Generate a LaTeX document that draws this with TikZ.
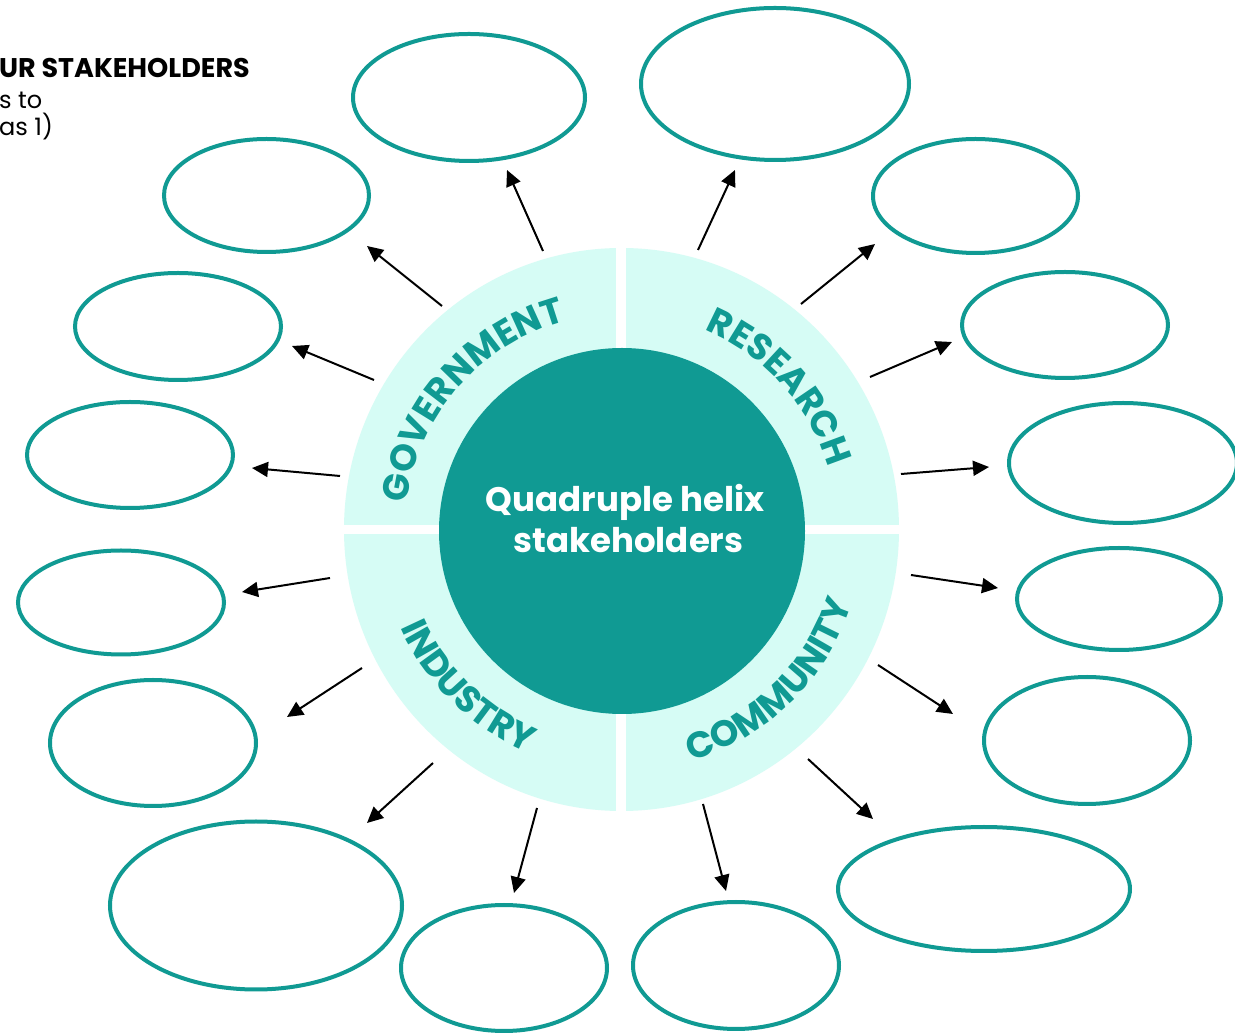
\documentclass[tikz,border=0pt]{standalone}
\usepackage{fontspec}
\newfontfamily\pop{Poppins}
\usetikzlibrary{shapes.geometric,arrows.meta,decorations.text,calc}
\definecolor{hteal}{HTML}{109A93}
\definecolor{hmint}{HTML}{D6FCF5}
\newcommand{\labfont}{\pop\bfseries\fontsize{36.5}{36.5}\selectfont\color{hteal}}
\begin{document}
\begin{tikzpicture}[x=1pt,y=1pt,
  bubble/.style={ellipse, draw=hteal, line width=4pt, inner sep=0pt, fill=white},
  link/.style={line width=2pt, draw=black, -{Triangle[length=16pt,width=15pt]}},
  cornertext/.style={anchor=base west, inner sep=0pt, font=\pop\fontsize{24}{24}\selectfont},
  hubtext/.style={anchor=base, inner sep=0pt, text=white, font=\pop\bfseries\fontsize{34}{34}\selectfont},
  arclabel/.style={decorate, decoration={text along path, text align=center, text={|\labfont|#1}}}
]
\useasboundingbox (0,0) rectangle (1235,1034);
\fill[white] (0,0) rectangle (1235,1034);

% corner text
\node[cornertext, font=\pop\bfseries\fontsize{27}{27}\selectfont] (t1) at (-1,956) {UR STAKEHOLDERS};
\node[cornertext] (t2) at (-1,925) {s to};
\node[cornertext] (t3) at (-1,898) {as 1)};

% central disc
\coordinate (C) at (621.5,504.5);
\fill[hmint] (C) ellipse [x radius=277.5, y radius=281.5];
\fill[white] (615.5,200) rectangle (626,840);
\fill[white] (330,500) rectangle (915,509);
\node[circle, fill=hteal, minimum size=366pt, inner sep=0pt] (hub) at (622,503) {};
\node[hubtext] (h1) at (625,522) {Quadruple helix};
\node[hubtext] (h2) at (628.5,481) {stakeholders};

% quadrant labels
\path[arclabel=GOVERNMENT] ($(C)+(178:216)$) arc[start angle=178, end angle=100, radius=216];
\path[arclabel=RESEARCH] ($(C)+(84:216)$) arc[start angle=84, end angle=0, radius=216];
\path[arclabel=INDUSTRY] ($(C)+(190:242)$) arc[start angle=190, end angle=261, radius=242];
\path[arclabel=COMMUNITY] ($(C)+(279:242)$) arc[start angle=279, end angle=350, radius=242];

% bubbles
\node[bubble, minimum width=232pt, minimum height=127pt] (e1) at (469,936.5) {};
\node[bubble, minimum width=268pt, minimum height=152pt] (e2) at (775,950) {};
\node[bubble, minimum width=205pt, minimum height=113pt] (e3) at (266.5,838.5) {};
\node[bubble, minimum width=205pt, minimum height=114pt] (e4) at (975.5,838) {};
\node[bubble, minimum width=206pt, minimum height=107pt] (e5) at (178,707.5) {};
\node[bubble, minimum width=206pt, minimum height=106pt] (e6) at (1065,709) {};
\node[bubble, minimum width=206pt, minimum height=106pt] (e7) at (130,579) {};
\node[bubble, minimum width=228pt, minimum height=120pt] (e8) at (1123,571) {};
\node[bubble, minimum width=206pt, minimum height=104pt] (e9) at (121,431.5) {};
\node[bubble, minimum width=204pt, minimum height=102pt] (e10) at (1119,435) {};
\node[bubble, minimum width=206pt, minimum height=126pt] (e11) at (153,291) {};
\node[bubble, minimum width=206pt, minimum height=127pt] (e12) at (1087,293.5) {};
\node[bubble, minimum width=292pt, minimum height=168pt] (e13) at (256,128.5) {};
\node[bubble, minimum width=292pt, minimum height=124pt] (e14) at (984,145) {};
\node[bubble, minimum width=206pt, minimum height=126pt] (e15) at (504,66) {};
\node[bubble, minimum width=206pt, minimum height=127pt] (e16) at (736,68.5) {};

% arrow ends
\coordinate (s1) at (543,783);  \coordinate (p1) at (507,864);
\coordinate (s2) at (442,728);  \coordinate (p2) at (367,788);
\coordinate (s3) at (374,654);  \coordinate (p3) at (292,688);
\coordinate (s4) at (340,558);  \coordinate (p4) at (252,566);
\coordinate (s5) at (330,456);  \coordinate (p5) at (242,442);
\coordinate (s6) at (362,366);  \coordinate (p6) at (287,317);
\coordinate (s7) at (433,271);  \coordinate (p7) at (367,211);
\coordinate (s8) at (537,226);  \coordinate (p8) at (514,141);
\coordinate (s9) at (698,784);  \coordinate (p9) at (735,864);
\coordinate (s10) at (801,730); \coordinate (p10) at (875,790);
\coordinate (s11) at (870,657); \coordinate (p11) at (952,692);
\coordinate (s12) at (901,560); \coordinate (p12) at (989,567);
\coordinate (s13) at (911,459); \coordinate (p13) at (998,446);
\coordinate (s14) at (878,369); \coordinate (p14) at (953,320);
\coordinate (s15) at (808,275); \coordinate (p15) at (873,215);
\coordinate (s16) at (703,230); \coordinate (p16) at (726,143);

\foreach \i in {1,...,16} {\draw[link] (s\i) -- (p\i);}
\end{tikzpicture}
\end{document}
